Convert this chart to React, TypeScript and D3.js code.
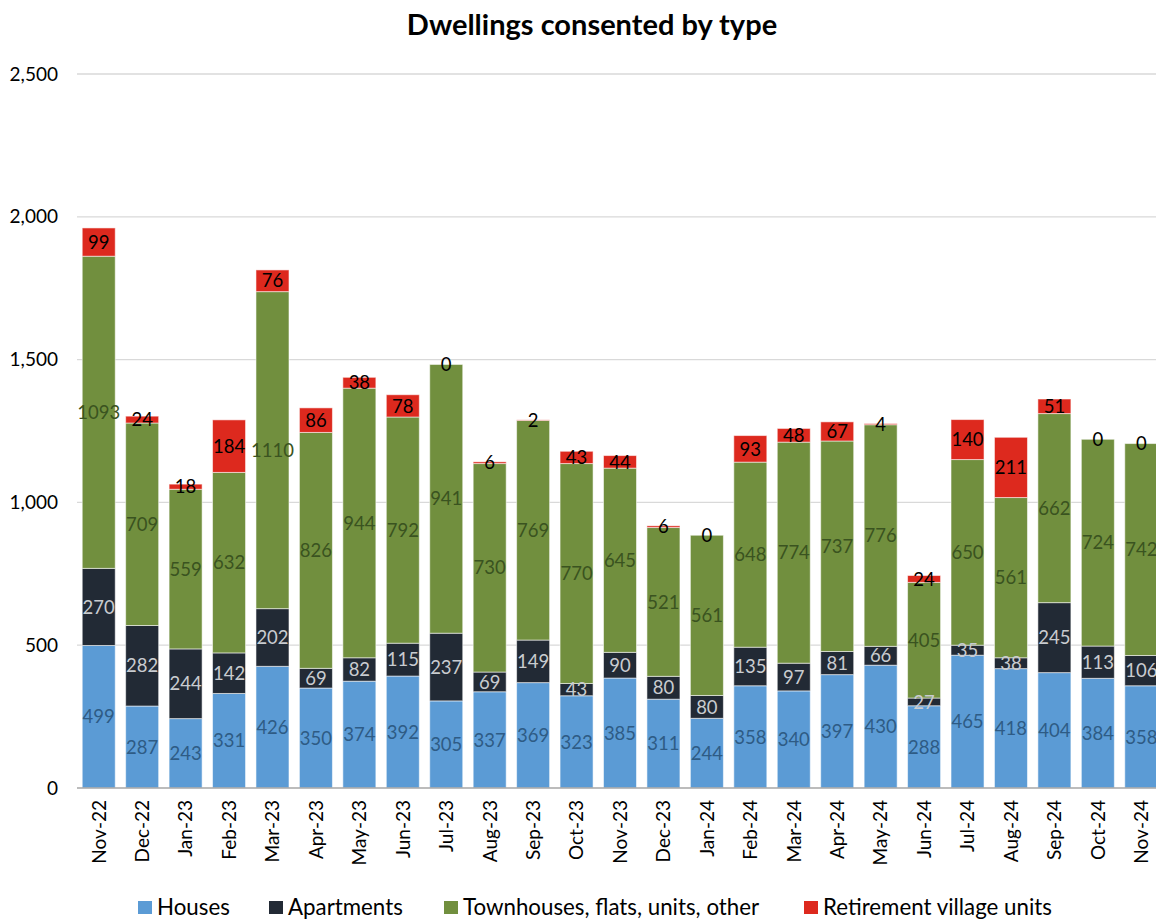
import React, { useEffect, useRef } from 'react';
import * as d3 from 'd3';

const months = [
  'Nov-22', 'Dec-22', 'Jan-23', 'Feb-23', 'Mar-23', 'Apr-23', 'May-23', 'Jun-23', 'Jul-23',
  'Aug-23', 'Sep-23', 'Oct-23', 'Nov-23', 'Dec-23', 'Jan-24', 'Feb-24', 'Mar-24', 'Apr-24',
  'May-24', 'Jun-24', 'Jul-24', 'Aug-24', 'Sep-24', 'Oct-24', 'Nov-24',
];
const houses = [499, 287, 243, 331, 426, 350, 374, 392, 305, 337, 369, 323, 385, 311, 244, 358, 340, 397, 430, 288, 465, 418, 404, 384, 358];
const apartments = [270, 282, 244, 142, 202, 69, 82, 115, 237, 69, 149, 43, 90, 80, 80, 135, 97, 81, 66, 27, 35, 38, 245, 113, 106];
const townhouses = [1093, 709, 559, 632, 1110, 826, 944, 792, 941, 730, 769, 770, 645, 521, 561, 648, 774, 737, 776, 405, 650, 561, 662, 724, 742];
const retirement = [99, 24, 18, 184, 76, 86, 38, 78, 0, 6, 2, 43, 44, 6, 0, 93, 48, 67, 4, 24, 140, 211, 51, 0, 0];
const yTicks = [0, 500, 1000, 1500, 2000, 2500];

const seriesDefs = [
  { key: 'houses', name: 'Houses', values: houses, color: '#5B9BD5', label: '#2E5B85' },
  { key: 'apartments', name: 'Apartments', values: apartments, color: '#222A35', label: '#C9CCD0' },
  { key: 'townhouses', name: 'Townhouses, flats, units, other', values: townhouses, color: '#718F3E', label: '#3A5320' },
  { key: 'retirement', name: 'Retirement village units', values: retirement, color: '#DD291E', label: '#000000' },
];

const FONT = 'Lato, "Open Sans", sans-serif';

const App: React.FC = () => {
  const svgRef = useRef<SVGSVGElement | null>(null);

  useEffect(() => {
    if (!svgRef.current) return;
    const svg = d3.select(svgRef.current);
    svg.selectAll('*').remove();

    const margin = { top: 74, left: 77, bottom: 134 };
    const plotRight = 1163;
    const height = 922;
    const innerH = height - margin.top - margin.bottom;

    const table = months.map((m, i) => {
      const row: any = { month: m };
      seriesDefs.forEach(s => (row[s.key] = s.values[i]));
      return row;
    });

    const x = d3.scaleBand<string>().domain(months).range([margin.left, plotRight]).paddingInner(0.24).paddingOuter(0.12);
    const y = d3.scaleLinear().domain([0, 2500]).range([margin.top + innerH, margin.top]);

    svg.append('rect').attr('width', 1156).attr('height', 922).attr('fill', '#fff');

    // title
    svg.append('text')
      .attr('x', 592).attr('y', 35)
      .attr('text-anchor', 'middle')
      .attr('font-family', FONT).attr('font-weight', 700).attr('font-size', 29)
      .text('Dwellings consented by type');

    // gridlines
    svg.append('g')
      .selectAll('line')
      .data(yTicks.filter(t => t > 0))
      .join('line')
      .attr('x1', margin.left).attr('x2', plotRight)
      .attr('y1', d => y(d)).attr('y2', d => y(d))
      .attr('stroke', '#D9D9D9').attr('stroke-width', 1.3);

    // y axis labels
    const yAxis = svg.append('g')
      .attr('transform', `translate(${margin.left},0)`)
      .call(d3.axisLeft(y).tickValues(yTicks).tickSize(0).tickPadding(19).tickFormat(d3.format(',')));
    yAxis.select('.domain').remove();
    yAxis.selectAll('text').attr('font-family', FONT).attr('font-size', 19).attr('fill', '#000');

    const stacked = d3.stack<any>().keys(seriesDefs.map(s => s.key))(table);

    stacked.forEach((layer, si) => {
      const def = seriesDefs[si];
      svg.append('g')
        .selectAll('rect')
        .data(layer)
        .join('rect')
        .attr('x', d => x(d.data.month)!)
        .attr('width', x.bandwidth())
        .attr('y', d => y(d[1]))
        .attr('height', d => Math.max(0, y(d[0]) - y(d[1])))
        .attr('fill', def.color)
        .attr('stroke', 'rgba(255,255,255,0.55)')
        .attr('stroke-width', 1);
    });

    stacked.forEach((layer, si) => {
      const def = seriesDefs[si];
      svg.append('g')
        .selectAll('text')
        .data(layer)
        .join('text')
        .attr('x', d => x(d.data.month)! + x.bandwidth() / 2)
        .attr('y', d => (y(d[0]) + y(d[1])) / 2)
        .attr('dy', '0.36em')
        .attr('text-anchor', 'middle')
        .attr('font-family', FONT).attr('font-size', 18.5)
        .attr('fill', def.label)
        .text(d => String(d[1] - d[0]));
    });

    // baseline
    svg.append('line')
      .attr('x1', margin.left).attr('x2', plotRight)
      .attr('y1', y(0)).attr('y2', y(0))
      .attr('stroke', '#A6A6A6').attr('stroke-width', 1.5);

    // x labels
    svg.append('g')
      .selectAll('text')
      .data(months)
      .join('text')
      .attr('transform', d => `translate(${x(d)! + x.bandwidth() / 2},${y(0) + 12}) rotate(-90)`)
      .attr('dy', '0.36em')
      .attr('text-anchor', 'end')
      .attr('font-family', FONT).attr('font-size', 19)
      .text(d => d);

    // legend
    const legendX = [138, 269, 444, 804];
    const legend = svg.append('g');
    seriesDefs.forEach((s, i) => {
      legend.append('rect')
        .attr('x', legendX[i]).attr('y', 901)
        .attr('width', 14).attr('height', 13)
        .attr('fill', s.color);
      legend.append('text')
        .attr('x', legendX[i] + 19).attr('y', 907)
        .attr('dy', '0.36em')
        .attr('font-family', FONT).attr('font-size', 22.3)
        .text(s.name);
    });
  }, []);

  return (
    <div style={{ position: 'absolute', top: 0, left: 0, width: 1156, height: 922, overflow: 'hidden' }}>
      <svg ref={svgRef} width={1156} height={922} style={{ display: 'block' }} />
    </div>
  );
};

export default App;
